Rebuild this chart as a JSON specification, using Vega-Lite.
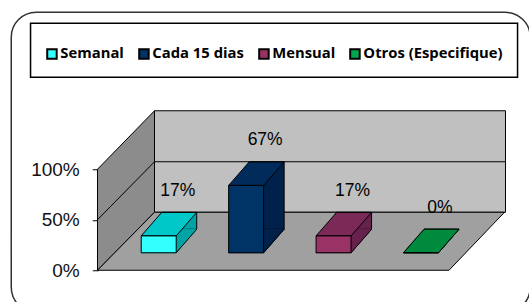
{
  "$schema": "https://vega.github.io/schema/vega-lite/v6.json",
  "width": 519,
  "height": 300,
  "padding": {"left": 11.25, "top": 12.25, "right": 0, "bottom": 0},
  "background": "white",
  "data": {"values": [
    {"cat": "Semanal", "v": 0.1667},
    {"cat": "Cada 15 dias", "v": 0.6667},
    {"cat": "Mensual", "v": 0.1667},
    {"cat": "Otros (Especifique)", "v": 0}
  ]},
  "layer": [
    {
      "data": {"values": [{}]},
      "mark": {"type": "point", "shape": "M13.3,-159.5 L364.3,-159.5 L364.3,-58 L13.3,-58 Z M13.3,-108.5 L364.3,-108.5", "size": 4, "filled": true, "fill": "#c0c0c0", "stroke": "#000", "strokeWidth": 1, "opacity": 1},
      "encoding": {
        "x": {"datum": "Semanal", "type": "nominal", "bandPosition": 0.2997, "axis": null, "scale": {"domain": ["Semanal", "Cada 15 dias", "Mensual", "Otros (Especifique)"], "paddingInner": 0, "paddingOuter": 0.968, "align": 0.6129}},
        "y": {"datum": 0, "type": "quantitative", "scale": {"domain": [-0.4158, 2.5545], "nice": false, "zero": false},
          "axis": {"values": [0, 0.5, 1], "format": ".0%", "offset": -87, "domain": false, "grid": false, "ticks": true, "tickSize": 6, "tickColor": "#000", "tickWidth": 1, "labelFont": "Liberation Sans", "labelFontSize": 19, "labelColor": "#111", "labelPadding": 13, "title": null}}
      }
    },
    {
      "data": {"values": [{}]},
      "mark": {"type": "point", "shape": "M-43.7,0 L-43.7,-101 L13.3,-159.5 L13.3,-58 Z M-43.7,-50.5 L13.3,-108.5", "size": 4, "filled": true, "fill": "#8c8c8c", "stroke": "#000", "strokeWidth": 1, "opacity": 1},
      "encoding": {
        "x": {"datum": "Semanal", "type": "nominal", "bandPosition": 0.2997, "axis": null, "scale": {"domain": ["Semanal", "Cada 15 dias", "Mensual", "Otros (Especifique)"], "paddingInner": 0, "paddingOuter": 0.968, "align": 0.6129}},
        "y": {"datum": 0, "type": "quantitative", "scale": {"domain": [-0.4158, 2.5545], "nice": false, "zero": false},
          "axis": {"values": [0, 0.5, 1], "format": ".0%", "offset": -87, "domain": false, "grid": false, "ticks": true, "tickSize": 6, "tickColor": "#000", "tickWidth": 1, "labelFont": "Liberation Sans", "labelFontSize": 19, "labelColor": "#111", "labelPadding": 13, "title": null}}
      }
    },
    {
      "data": {"values": [{}]},
      "mark": {"type": "point", "shape": "M-43.7,0 L307.8,0 L363.3,-58 L13.3,-58 Z", "size": 4, "filled": true, "fill": "#a0a0a0", "stroke": "#000", "strokeWidth": 1, "opacity": 1},
      "encoding": {
        "x": {"datum": "Semanal", "type": "nominal", "bandPosition": 0.2997, "axis": null, "scale": {"domain": ["Semanal", "Cada 15 dias", "Mensual", "Otros (Especifique)"], "paddingInner": 0, "paddingOuter": 0.968, "align": 0.6129}},
        "y": {"datum": 0, "type": "quantitative", "scale": {"domain": [-0.4158, 2.5545], "nice": false, "zero": false},
          "axis": {"values": [0, 0.5, 1], "format": ".0%", "offset": -87, "domain": false, "grid": false, "ticks": true, "tickSize": 6, "tickColor": "#000", "tickWidth": 1, "labelFont": "Liberation Sans", "labelFontSize": 19, "labelColor": "#111", "labelPadding": 13, "title": null}}
      }
    },
    {
      "mark": {"type": "bar", "width": {"band": 0.4003}, "stroke": "#000", "strokeWidth": 1, "xOffset": 20.5, "x2Offset": 20.5, "yOffset": -41, "y2Offset": -41},
      "encoding": {
        "x": {"field": "cat", "type": "nominal", "sort": null, "axis": null, "scale": {"domain": ["Semanal", "Cada 15 dias", "Mensual", "Otros (Especifique)"], "paddingInner": 0, "paddingOuter": 0.968, "align": 0.6129}},
        "y": {"field": "v", "type": "quantitative", "scale": {"domain": [-0.4158, 2.5545], "nice": false, "zero": false},
          "axis": {"values": [0, 0.5, 1], "format": ".0%", "offset": -87, "domain": false, "grid": false, "ticks": true, "tickSize": 6, "tickColor": "#000", "tickWidth": 1, "labelFont": "Liberation Sans", "labelFontSize": 19, "labelColor": "#111", "labelPadding": 13, "title": null}},
        "y2": {"datum": 0},
        "fill": {"field": "cat", "type": "nominal", "legend": null, "scale": {"domain": ["Semanal", "Cada 15 dias", "Mensual", "Otros (Especifique)"], "range": ["#00a4a4", "#00214a", "#66224c", "#006a30"]}}
      }
    },
    {
      "mark": {"type": "point", "shape": "M0,0 L35,0 L55.5,-23.5 L20.5,-23.5 Z", "size": 4, "filled": true, "strokeWidth": 1, "opacity": 1, "yOffset": -17.5},
      "encoding": {
        "x": {"field": "cat", "type": "nominal", "sort": null, "bandPosition": 0.2997, "axis": null, "scale": {"domain": ["Semanal", "Cada 15 dias", "Mensual", "Otros (Especifique)"], "paddingInner": 0, "paddingOuter": 0.968, "align": 0.6129}},
        "y": {"datum": 0, "type": "quantitative", "scale": {"domain": [-0.4158, 2.5545], "nice": false, "zero": false},
          "axis": {"values": [0, 0.5, 1], "format": ".0%", "offset": -87, "domain": false, "grid": false, "ticks": true, "tickSize": 6, "tickColor": "#000", "tickWidth": 1, "labelFont": "Liberation Sans", "labelFontSize": 19, "labelColor": "#111", "labelPadding": 13, "title": null}},
        "fill": {"field": "cat", "type": "nominal", "legend": null, "scale": {"domain": ["Semanal", "Cada 15 dias", "Mensual", "Otros (Especifique)"], "range": ["#00a4a4", "#00214a", "#66224c", "#006a30"]}},
        "stroke": {"field": "cat", "type": "nominal", "legend": null, "scale": {"domain": ["Semanal", "Cada 15 dias", "Mensual", "Otros (Especifique)"], "range": ["#00a4a4", "#00214a", "#66224c", "#006a30"]}}
      }
    },
    {
      "mark": {"type": "point", "shape": "M35,0 L55.5,-23.5", "size": 4, "filled": false, "stroke": "#000", "strokeWidth": 1, "opacity": 1, "yOffset": -17.5},
      "encoding": {
        "x": {"field": "cat", "type": "nominal", "sort": null, "bandPosition": 0.2997, "axis": null, "scale": {"domain": ["Semanal", "Cada 15 dias", "Mensual", "Otros (Especifique)"], "paddingInner": 0, "paddingOuter": 0.968, "align": 0.6129}},
        "y": {"datum": 0, "type": "quantitative", "scale": {"domain": [-0.4158, 2.5545], "nice": false, "zero": false},
          "axis": {"values": [0, 0.5, 1], "format": ".0%", "offset": -87, "domain": false, "grid": false, "ticks": true, "tickSize": 6, "tickColor": "#000", "tickWidth": 1, "labelFont": "Liberation Sans", "labelFontSize": 19, "labelColor": "#111", "labelPadding": 13, "title": null}}
      }
    },
    {
      "mark": {"type": "point", "shape": "M0,0 L35,0 L55.5,-23.5 L20.5,-23.5 Z", "size": 4, "filled": true, "stroke": "#000", "strokeWidth": 1, "opacity": 1, "yOffset": -17.5},
      "encoding": {
        "x": {"field": "cat", "type": "nominal", "sort": null, "bandPosition": 0.2997, "axis": null, "scale": {"domain": ["Semanal", "Cada 15 dias", "Mensual", "Otros (Especifique)"], "paddingInner": 0, "paddingOuter": 0.968, "align": 0.6129}},
        "y": {"field": "v", "type": "quantitative", "scale": {"domain": [-0.4158, 2.5545], "nice": false, "zero": false},
          "axis": {"values": [0, 0.5, 1], "format": ".0%", "offset": -87, "domain": false, "grid": false, "ticks": true, "tickSize": 6, "tickColor": "#000", "tickWidth": 1, "labelFont": "Liberation Sans", "labelFontSize": 19, "labelColor": "#111", "labelPadding": 13, "title": null}},
        "fill": {"field": "cat", "type": "nominal", "legend": null, "scale": {"domain": ["Semanal", "Cada 15 dias", "Mensual", "Otros (Especifique)"], "range": ["#00c8c8", "#002b5a", "#7b2a58", "#008a3e"]}}
      }
    },
    {
      "mark": {"type": "bar", "width": {"band": 0.4003}, "stroke": "#000", "strokeWidth": 1, "yOffset": -17.5, "y2Offset": -17.5},
      "encoding": {
        "x": {"field": "cat", "type": "nominal", "sort": null, "axis": null, "scale": {"domain": ["Semanal", "Cada 15 dias", "Mensual", "Otros (Especifique)"], "paddingInner": 0, "paddingOuter": 0.968, "align": 0.6129}},
        "y": {"field": "v", "type": "quantitative", "scale": {"domain": [-0.4158, 2.5545], "nice": false, "zero": false},
          "axis": {"values": [0, 0.5, 1], "format": ".0%", "offset": -87, "domain": false, "grid": false, "ticks": true, "tickSize": 6, "tickColor": "#000", "tickWidth": 1, "labelFont": "Liberation Sans", "labelFontSize": 19, "labelColor": "#111", "labelPadding": 13, "title": null}},
        "y2": {"datum": 0},
        "color": {"field": "cat", "type": "nominal", "scale": {"domain": ["Semanal", "Cada 15 dias", "Mensual", "Otros (Especifique)"], "range": ["#33ffff", "#003366", "#993366", "#00a550"]},
          "legend": {"orient": "none", "legendX": 19.3, "legendY": 11, "direction": "horizontal", "title": " ", "titleFontSize": 6, "titlePadding": 3, "padding": 14, "strokeColor": "#000", "fillColor": "#fff", "symbolType": "square", "symbolSize": 90, "symbolStrokeColor": "#000", "symbolStrokeWidth": 2, "labelFont": "Open Sans", "labelFontSize": 14.8, "labelFontWeight": "bold", "labelColor": "#000", "labelOffset": 1, "columnPadding": 10}}
      }
    },
    {
      "mark": {"type": "text", "dx": 19, "dy": -62.5, "baseline": "middle", "font": "Liberation Sans", "fontSize": 17.5, "color": "#000"},
      "encoding": {
        "x": {"field": "cat", "type": "nominal", "sort": null, "axis": null, "scale": {"domain": ["Semanal", "Cada 15 dias", "Mensual", "Otros (Especifique)"], "paddingInner": 0, "paddingOuter": 0.968, "align": 0.6129}},
        "y": {"field": "v", "type": "quantitative", "scale": {"domain": [-0.4158, 2.5545], "nice": false, "zero": false},
          "axis": {"values": [0, 0.5, 1], "format": ".0%", "offset": -87, "domain": false, "grid": false, "ticks": true, "tickSize": 6, "tickColor": "#000", "tickWidth": 1, "labelFont": "Liberation Sans", "labelFontSize": 19, "labelColor": "#111", "labelPadding": 13, "title": null}},
        "text": {"field": "v", "type": "quantitative", "format": ".0%"}
      }
    }
  ],
  "resolve": {"scale": {"fill": "independent", "stroke": "independent"}},
  "config": {
    "view": {"stroke": "#333", "strokeWidth": 1.5, "cornerRadius": 25, "fill": "white"},
    "legend": {"strokeWidth": 1.5}
  }
}
